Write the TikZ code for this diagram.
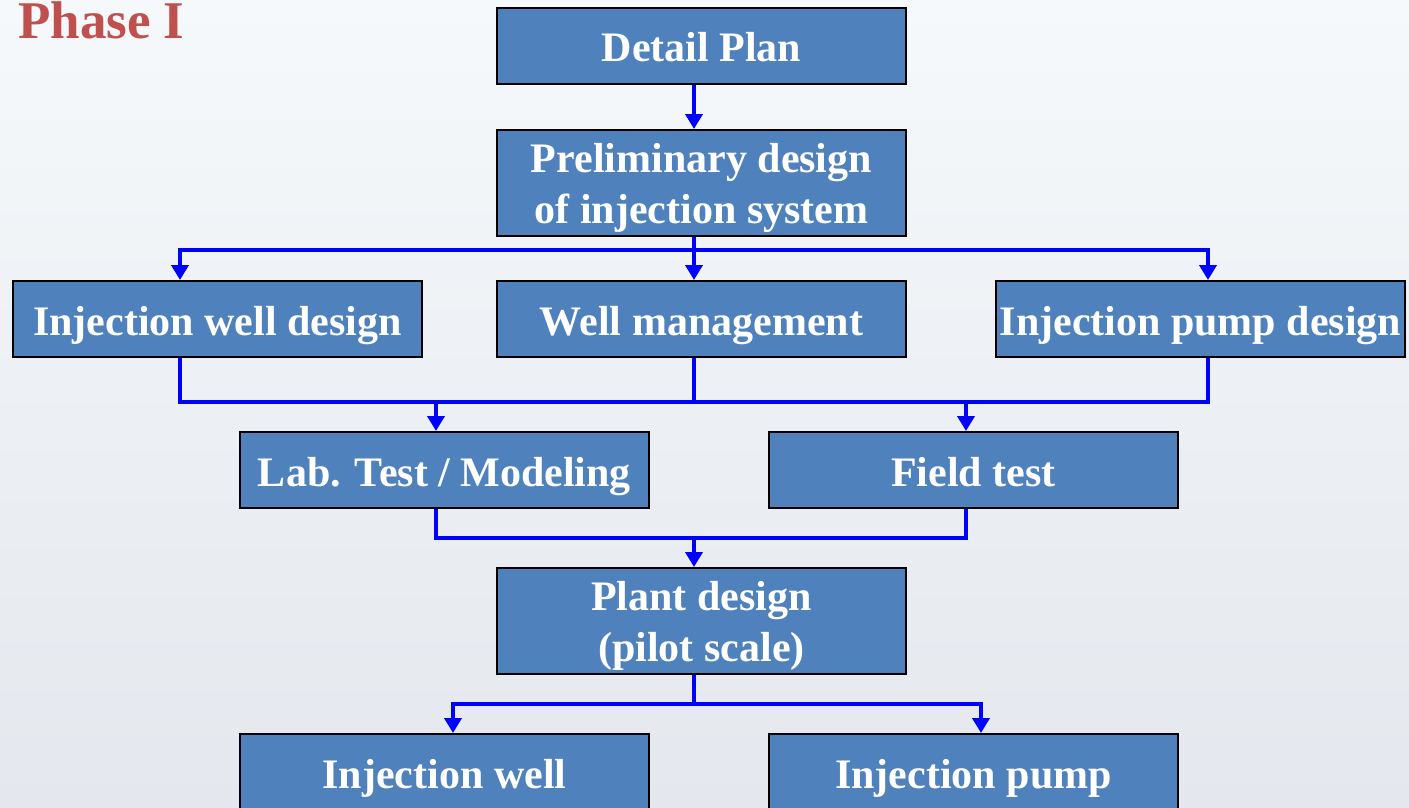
\documentclass[tikz,border=0pt]{standalone}
\usepackage{fontspec}
\setmainfont{Liberation Serif}
\usetikzlibrary{arrows.meta,calc}
\definecolor{boxblue}{RGB}{79,129,189}
\definecolor{titlered}{RGB}{192,80,77}
\definecolor{bgtop}{RGB}{245,249,251}
\definecolor{bgbot}{RGB}{228,232,238}
\tikzset{
  box/.style={draw=black, line width=2pt, fill=boxblue, text=white, inner sep=0pt,
    minimum width=409pt, minimum height=76pt, align=center,
    text height=36pt, text depth=4pt,
    font=\fontsize{42}{51}\selectfont\bfseries},
  tallbox/.style={box, minimum height=106pt, text height=87pt, text depth=7pt},
  conn/.style={draw={rgb,255:red,0;green,0;blue,255}, line width=4pt, line join=miter},
  arr/.style={conn, -{Triangle[width=17pt,length=15pt]}},
}
\begin{document}
\begin{tikzpicture}[x=1pt,y=-1pt]
\useasboundingbox (0,0) rectangle (1409,808);
\shade[top color=bgtop, bottom color=bgbot] (0,0) rectangle (1409,808);

\node[anchor=base west, text=titlered, inner sep=0pt, font=\fontsize{53}{60}\selectfont\bfseries] (title) at (18,39) {Phase I};

\node[box] (dp) at (701.5,46) {Detail Plan};
\node[tallbox] (pre) at (701.5,183) {Preliminary design\\of injection system};
\node[box] (iwd) at (217.5,319) {Injection well design};
\node[box] (wm) at (701.5,319) {Well management};
\node[box] (ipd) at (1200.5,319) {Injection pump design};
\node[box] (lab) at (444.5,470) {Lab. Test / Modeling};
\node[box] (ft) at (973.5,470) {Field test};
\node[tallbox] (pd) at (701.5,621) {Plant design\\(pilot scale)};
\node[box] (iw) at (444.5,772) {Injection well};
\node[box] (ip) at (973.5,772) {Injection pump};

% anchor points on the boxes
\coordinate (dpB) at ([xshift=-7.5pt]dp.south);
\coordinate (preT) at ([xshift=-7.5pt]pre.north);
\coordinate (preB) at ([xshift=-7.5pt]pre.south);
\coordinate (iwdT) at ([xshift=-37.5pt]iwd.north);
\coordinate (iwdB) at ([xshift=-37.5pt]iwd.south);
\coordinate (wmT) at ([xshift=-7.5pt]wm.north);
\coordinate (wmB) at ([xshift=-7.5pt]wm.south);
\coordinate (ipdT) at ([xshift=7.5pt]ipd.north);
\coordinate (ipdB) at ([xshift=7.5pt]ipd.south);
\coordinate (labT) at ([xshift=-8.5pt]lab.north);
\coordinate (labB) at ([xshift=-8.5pt]lab.south);
\coordinate (ftT) at ([xshift=-7.5pt]ft.north);
\coordinate (ftB) at ([xshift=-7.5pt]ft.south);
\coordinate (pdT) at ([xshift=-7.5pt]pd.north);
\coordinate (pdB) at ([xshift=-7.5pt]pd.south);
\coordinate (iwT) at ([xshift=8.5pt]iw.north);
\coordinate (ipT) at ([xshift=7.5pt]ip.north);

\coordinate (b1) at (694,250);
\coordinate (b2) at (694,402);
\coordinate (b3) at (694,538);
\coordinate (b4) at (694,704);

\draw[arr] (dpB) -- (preT);

\draw[arr] (b1) -| (iwdT);
\draw[arr] (b1) -| (ipdT);
\draw[arr] (preB) -- (wmT);

\draw[conn] (iwdB) -- (iwdB |- b2) -- (ipdB |- b2) -- (ipdB);
\draw[conn] (wmB) -- (b2);
\draw[arr] (labT |- b2) -- (labT);
\draw[arr] (ftT |- b2) -- (ftT);

\draw[conn] (labB) |- (b3) -| (ftB);
\draw[arr] (b3) -- (pdT);

\draw[conn] (pdB) -- (b4);
\draw[arr] (b4) -| (iwT);
\draw[arr] (b4) -| (ipT);
\end{tikzpicture}
\end{document}
